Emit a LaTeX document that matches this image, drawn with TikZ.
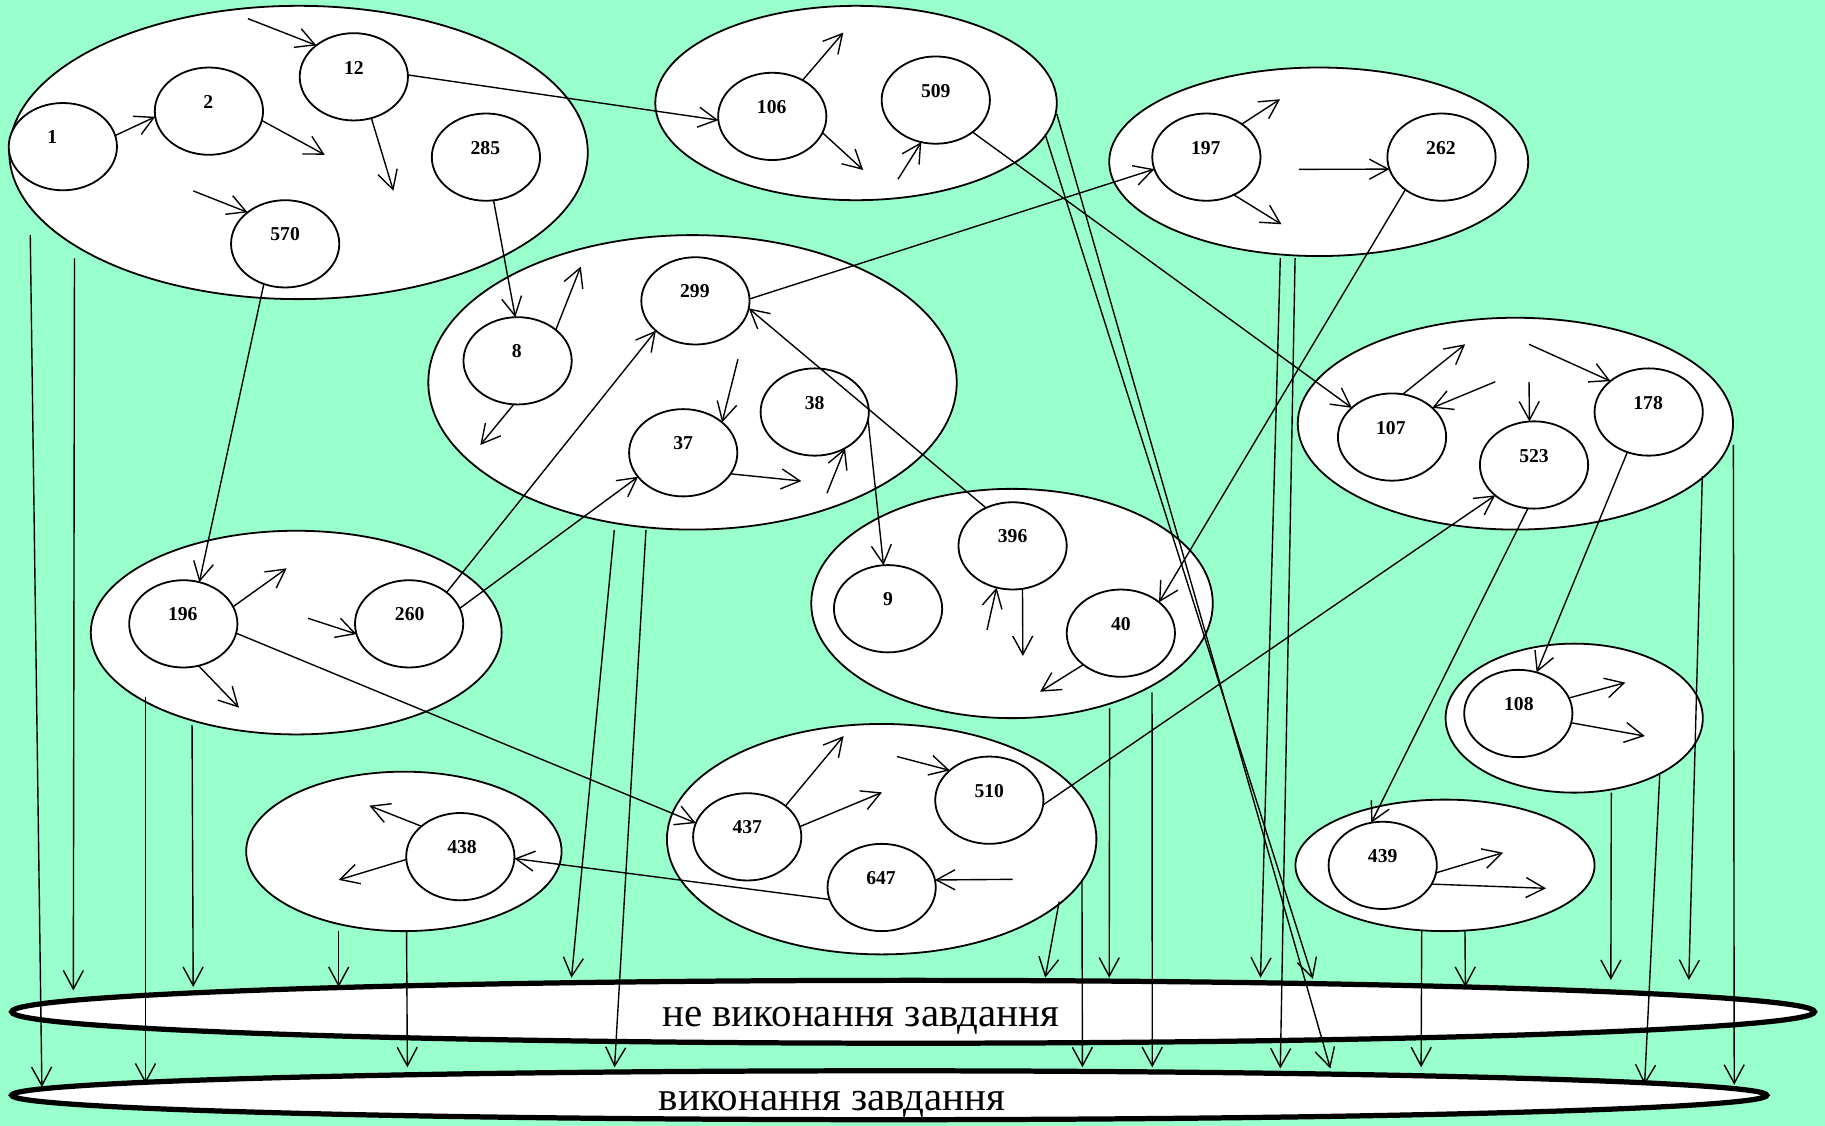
\documentclass[tikz,border=0pt]{standalone}
\usepackage{fontspec}
\setmainfont{Liberation Serif}
\usetikzlibrary{arrows.meta,shapes.geometric}
\definecolor{bg}{HTML}{99FFCC}
\newcommand\vtx[4]{\node[vert] (n#1) at (#2,#3) {}; \node[lbl] (t#1) at (#4,#3-8) {#1};}
\begin{document}
\begin{tikzpicture}[x=0.025cm,y=-0.025cm,
  cluster/.style={draw, fill=white, ellipse, line width=1.1pt, inner sep=0pt, outer sep=0pt},
  vert/.style={draw, fill=white, ellipse, line width=1.1pt, minimum width=93*0.025cm, minimum height=75*0.025cm, inner sep=0pt, outer sep=0pt},
  lbl/.style={font=\fontsize{12}{12}\selectfont\bfseries, inner sep=0pt},
  outcome/.style={draw, fill=white, ellipse, line width=3.2pt, inner sep=0pt, outer sep=0pt},
  bigtxt/.style={font=\fontsize{25}{25}\selectfont, inner sep=0pt, anchor=base},
  arr/.style={line width=0.85pt, -{Straight Barb[length=4mm,width=4.3mm,line width=0.85pt]}}]
\path[use as bounding box, fill=bg] (0,0) rectangle (1568,967);
% clusters
\node[cluster, minimum width=497*0.025cm, minimum height=252*0.025cm] (e1) at (256.5,131) {};
\node[cluster, minimum width=345*0.025cm, minimum height=167*0.025cm] (e2) at (735.5,88.5) {};
\node[cluster, minimum width=360*0.025cm, minimum height=162*0.025cm] (e3) at (1133,139) {};
\node[cluster, minimum width=454*0.025cm, minimum height=253*0.025cm] (e4) at (595,328.5) {};
\node[cluster, minimum width=374*0.025cm, minimum height=182*0.025cm] (e5) at (1302,364) {};
\node[cluster, minimum width=353*0.025cm, minimum height=175*0.025cm] (e6) at (254.5,543.5) {};
\node[cluster, minimum width=345*0.025cm, minimum height=197*0.025cm] (e7) at (869.5,518.5) {};
\node[cluster, minimum width=221*0.025cm, minimum height=128*0.025cm] (e8) at (1352.5,617) {};
\node[cluster, minimum width=271*0.025cm, minimum height=137*0.025cm] (e9) at (347,731.5) {};
\node[cluster, minimum width=369*0.025cm, minimum height=198*0.025cm] (e10) at (757.5,721) {};
\node[cluster, minimum width=257*0.025cm, minimum height=113*0.025cm] (e11) at (1241.5,743.5) {};
% outcomes
\node[outcome, minimum width=1549*0.025cm, minimum height=54*0.025cm] (b1) at (784.5,869.3) {};
\node[outcome, minimum width=1508*0.025cm, minimum height=42*0.025cm] (b2) at (764,941) {};
\node[bigtxt] (tb1) at (739.5,882) {не виконання завдання};
\node[bigtxt] (tb2) at (715,954) {виконання завдання};
% vertices
\vtx{1}{54}{126}{45}
\vtx{2}{179.5}{95.5}{179}
\vtx{12}{304}{66}{304}
\vtx{285}{417.5}{135}{417}
\vtx{570}{245}{209.5}{245}
\vtx{106}{663.5}{100}{663}
\vtx{509}{804}{86}{804}
\vtx{197}{1036.5}{135}{1036}
\vtx{262}{1238.5}{135}{1238}
\vtx{299}{597.5}{258.5}{597}
\vtx{8}{444.7}{310}{444}
\vtx{37}{587}{389}{587}
\vtx{38}{700}{354}{700}
\vtx{107}{1196}{375.5}{1195}
\vtx{523}{1318}{399.5}{1318}
\vtx{178}{1416.5}{354}{1416}
\vtx{196}{157.5}{536}{157}
\vtx{260}{351.5}{536}{352}
\vtx{396}{870}{469}{870}
\vtx{9}{763}{523}{763}
\vtx{40}{963}{544}{963}
\vtx{108}{1304.5}{613}{1305}
\vtx{438}{395.5}{736}{397}
\vtx{437}{642}{719}{642}
\vtx{510}{850}{687.5}{850}
\vtx{647}{757.5}{762.5}{757}
\vtx{439}{1188}{743.5}{1188}
% free ends
\coordinate (c1) at (213,16);
\coordinate (c2) at (279,133);
\coordinate (c3) at (338,164);
\coordinate (c4) at (166,164);
\coordinate (c5) at (724.6,28);
\coordinate (c6) at (741.6,146);
\coordinate (c7) at (771.5,154);
\coordinate (c8) at (1099.8,85.3);
\coordinate (c9) at (1101,192.7);
\coordinate (c10) at (1116,145.5);
\coordinate (c11) at (499,229);
\coordinate (c12) at (412.7,382.3);
\coordinate (c13) at (634,308.7);
\coordinate (c14) at (688.5,413.3);
\coordinate (c15) at (710.5,423.8);
\coordinate (c16) at (1258.8,295.8);
\coordinate (c17) at (1284.7,328);
\coordinate (c18) at (1313.7,328);
\coordinate (c19) at (1313.7,295.8);
\coordinate (c20) at (246.3,488.3);
\coordinate (c21) at (264.6,531.2);
\coordinate (c22) at (205.3,608);
\coordinate (c23) at (848,541.3);
\coordinate (c24) at (878.8,563.6);
\coordinate (c25) at (893.6,594.3);
\coordinate (c26) at (1396.5,586.5);
\coordinate (c27) at (1413.2,632.4);
\coordinate (c28) at (317.3,692.2);
\coordinate (c29) at (291,756);
\coordinate (c30) at (724.8,632.4);
\coordinate (c31) at (757.8,680.8);
\coordinate (c32) at (770.7,650);
\coordinate (c33) at (870,755.5);
\coordinate (c34) at (1291.4,732.6);
\coordinate (c35) at (1328.3,763.2);
% arrows inside clusters
\draw[arr] (c1) -- (n12.140);
\draw[arr] (n2.-10) -- (c2);
\draw[arr] (n12.-67) -- (c3);
\draw[arr] (c4) -- (n570.140);
\draw[arr] (n106.50) -- (c5);
\draw[arr] (n106.-18) -- (c6);
\draw[arr] (c7) -- (n509.-109);
\draw[arr] (n197.43) -- (c8);
\draw[arr] (n197.-54) -- (c9);
\draw[arr] (c10) -- (n262.193);
\draw[arr] (n8.39) -- (c11);
\draw[arr] (n8.-95) -- (c12);
\draw[arr] (c13) -- (n37.38);
\draw[arr] (n37.-24) -- (c14);
\draw[arr] (c15) -- (n38.-50);
\draw[arr] (n107.76) -- (c16);
\draw[arr] (c17) -- (n107.36);
\draw[arr] (c18) -- (n523.96);
\draw[arr] (c19) -- (n178.141);
\draw[arr] (n196.19) -- (c20);
\draw[arr] (c21) -- (n260.191.5);
\draw[arr] (n196.-70.5) -- (c22);
\draw[arr] (c23) -- (n396.-111);
\draw[arr] (n396.-77) -- (c24);
\draw[arr] (n40.220) -- (c25);
\draw[arr] (n108.17) -- (c26);
\draw[arr] (n108.-10.7) -- (c27);
\draw[arr] (n438.142) -- (c28);
\draw[arr] (n438.183) -- (c29);
\draw[arr] (n437.39) -- (c30);
\draw[arr] (n437.11) -- (c31);
\draw[arr] (c32) -- (n510.143);
\draw[arr] (c33) -- (n647.8.6);
\draw[arr] (n439.-8.4) -- (c34);
\draw[arr] (n439.-21.6) -- (c35);
% node to node
\draw[arr] (n1.12) -- (n2.186);
\draw[arr] (n12.2) -- (n106.184);
\draw[arr] (n285.-80) -- (n8.93);
\draw[arr] (n570.-118) -- (n196.69);
\draw[arr] (n509.-41) -- (n107.144);
\draw[arr] (n299.2) -- (n197.193);
\draw[arr] (n262.-138) -- (n40.39);
\draw[arr] (n260.40) -- (n299.217);
\draw[arr] (n260.17) -- (n37.208);
\draw[arr] (n38.-8.5) -- (n9.96);
\draw[arr] (n396.125.5) -- (n299.-8);
\draw[arr] (n523.-98) -- (n439.105);
\draw[arr] (n178.-118) -- (n108.66);
\draw[arr] (n510.-5) -- (n523.218);
\draw[arr] (n196.-10.7) -- (n437.165);
\draw[arr] (n647.193.7) -- (n438.-2.8);
% drops to outcomes
\foreach \i/\xa/\ya/\xb/\yb in {
  1/26/202/36/934, 2/64/222/63/851, 3/898/115.4/1128/841, 4/908/98/1143/918,
  5/1100/221.7/1083/840, 6/1112.7/221.7/1100/918, 7/527.8/455.4/491/840, 8/555/455.4/528/917,
  9/1462.6/409/1451/842, 10/1489.3/382.3/1490/932, 11/125/599/125/931, 12/165/623/166/848,
  13/953.4/608.6/953/840, 14/989.8/594.8/990/917, 15/1384.4/681/1384/842, 16/1426/665.9/1413/932,
  17/291/799.6/291/848, 18/349.3/799.6/350/917, 19/910/774.7/898/840, 20/929.6/756/930/917,
  21/1221.5/799.6/1221/917, 22/1258.7/799.6/1259/848}{
  \coordinate (s\i) at (\xa,\ya);
  \coordinate (f\i) at (\xb,\yb);
  \draw[arr] (s\i) -- (f\i);
}
\end{tikzpicture}
\end{document}
